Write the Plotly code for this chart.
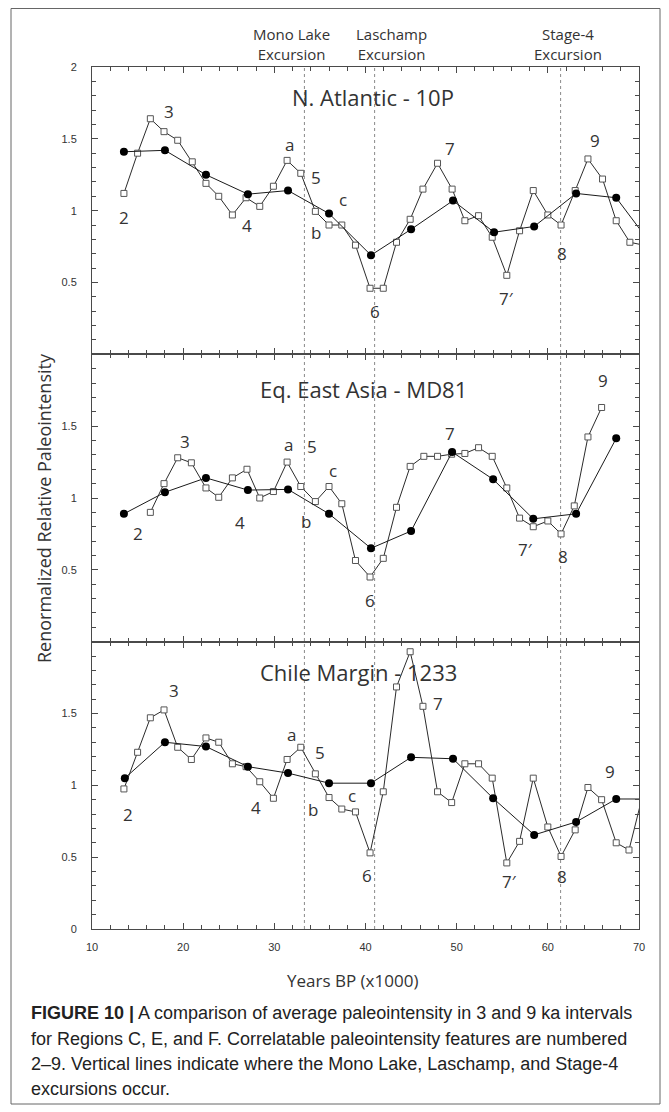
import plotly.graph_objects as go
from plotly.subplots import make_subplots

# ---------------- data ----------------
# N. Atlantic - 10P
na_sq_x = [13.5, 15.0, 16.4, 17.9, 19.4, 21.0, 22.5, 23.9, 25.4, 26.9, 28.4, 29.9, 31.4, 32.9,
           34.5, 36.0, 37.4, 38.9, 40.5, 41.95, 43.4, 44.9, 46.3, 47.9, 49.5, 50.9, 52.4, 53.9,
           55.5, 56.9, 58.4, 60.0, 61.45, 63.0, 64.4, 66.0, 67.5, 69.0, 70.5]
na_sq_y = [1.12, 1.40, 1.64, 1.55, 1.49, 1.34, 1.19, 1.10, 0.97, 1.09, 1.03, 1.17, 1.35, 1.26,
           0.995, 0.90, 0.90, 0.76, 0.46, 0.46, 0.78, 0.94, 1.15, 1.33, 1.15, 0.93, 0.965, 0.815,
           0.55, 0.86, 1.14, 0.97, 0.90, 1.14, 1.36, 1.22, 0.93, 0.78, 0.76]
na_dot_x = [13.5, 18.0, 22.5, 27.1, 31.5, 36.0, 40.6, 45.0, 49.6, 54.1, 58.5, 63.1, 67.5, 72.0]
na_dot_y = [1.41, 1.42, 1.25, 1.115, 1.14, 0.98, 0.69, 0.87, 1.07, 0.85, 0.89, 1.12, 1.09, 0.71]

# Eq. East Asia - MD81
ea_sq_x = [16.4, 17.9, 19.4, 20.9, 22.5, 23.9, 25.4, 27.0, 28.4, 29.9, 31.4, 32.9, 34.5, 36.0,
           37.4, 38.9, 40.5, 41.95, 43.4, 44.9, 46.4, 47.9, 49.45, 50.9, 52.4, 53.9, 55.5, 56.9,
           58.4, 60.0, 61.45, 62.9, 64.4, 65.9]
ea_sq_y = [0.90, 1.10, 1.28, 1.245, 1.07, 1.005, 1.14, 1.20, 1.00, 1.045, 1.25, 1.08, 0.975, 1.08,
           0.96, 0.565, 0.45, 0.58, 0.935, 1.22, 1.29, 1.29, 1.305, 1.31, 1.35, 1.29, 1.07, 0.86,
           0.80, 0.84, 0.75, 0.945, 1.425, 1.63]
ea_dot_x = [13.5, 18.0, 22.5, 27.1, 31.5, 36.0, 40.6, 45.0, 49.5, 54.0, 58.4, 63.1, 67.5]
ea_dot_y = [0.89, 1.04, 1.14, 1.055, 1.06, 0.89, 0.65, 0.77, 1.32, 1.13, 0.855, 0.89, 1.415]

# Chile Margin - 1233
cm_sq_x = [13.5, 15.0, 16.4, 17.9, 19.4, 20.9, 22.5, 23.9, 25.4, 26.9, 28.4, 29.9, 31.4, 32.9,
           34.5, 36.0, 37.4, 38.9, 40.5, 41.95, 43.4, 44.9, 46.3, 47.9, 49.45, 50.9, 52.4, 53.9,
           55.5, 56.9, 58.4, 60.0, 61.45, 63.0, 64.4, 65.9, 67.5, 68.9, 70.4]
cm_sq_y = [0.975, 1.23, 1.47, 1.525, 1.265, 1.18, 1.33, 1.30, 1.15, 1.13, 1.025, 0.91, 1.18, 1.265,
           1.08, 0.915, 0.835, 0.815, 0.53, 0.955, 1.685, 1.93, 1.55, 0.955, 0.88, 1.15, 1.15, 1.05,
           0.46, 0.61, 1.05, 0.71, 0.505, 0.69, 0.985, 0.90, 0.60, 0.55, 0.93]
cm_dot_x = [13.6, 18.0, 22.5, 27.1, 31.5, 36.0, 40.6, 45.0, 49.6, 54.0, 58.5, 63.1, 67.5, 72.0]
cm_dot_y = [1.05, 1.30, 1.27, 1.13, 1.085, 1.015, 1.015, 1.195, 1.185, 0.91, 0.655, 0.745, 0.905, 0.905]

# feature labels (text, x, y) per panel
na_lab_t = ["2", "3", "4", "a", "5", "b", "c", "6", "7", "7′", "8", "9"]
na_lab_x = [13.5, 18.5, 27.0, 31.7, 34.6, 34.6, 37.5, 41.0, 49.3, 55.5, 61.5, 65.2]
na_lab_y = [0.95, 1.69, 0.895, 1.46, 1.23, 0.845, 1.08, 0.30, 1.435, 0.39, 0.70, 1.49]

ea_lab_t = ["2", "3", "4", "a", "5", "b", "c", "6", "7", "7′", "8", "9"]
ea_lab_x = [15.0, 20.2, 26.2, 31.5, 34.1, 33.5, 36.4, 40.5, 49.3, 57.5, 61.7, 66.0]
ea_lab_y = [0.755, 1.39, 0.83, 1.37, 1.36, 0.835, 1.19, 0.29, 1.45, 0.64, 0.59, 1.82]

cm_lab_t = ["2", "3", "4", "a", "5", "b", "c", "6", "7", "7′", "8", "9"]
cm_lab_x = [14.0, 19.0, 28.0, 31.9, 35.0, 34.2, 38.5, 40.2, 47.9, 55.8, 61.5, 66.8]
cm_lab_y = [0.795, 1.66, 0.845, 1.355, 1.23, 0.83, 0.93, 0.375, 1.57, 0.33, 0.365, 1.095]

panel_titles = ["N. Atlantic - 10P", "Eq. East Asia - MD81", "Chile Margin - 1233"]

excursion_x = [33.3, 41.0, 61.4]
excursion_names = ["Mono Lake<br>Excursion", "Laschamp<br>Excursion", "Stage-4<br>Excursion"]
excursion_label_x = [31.9, 42.9, 62.2]

y_tickvals = [[0.5, 1, 1.5, 2], [0.5, 1, 1.5], [0, 0.5, 1, 1.5]]
x_range = [10, 70]
y_range = [0, 2]

caption_lines = [
    "<b>FIGURE 10 |</b> A comparison of average paleointensity in 3 and 9 ka intervals",
    "for Regions C, E, and F. Correlatable paleointensity features are numbered",
    "2–9. Vertical lines indicate where the Mono Lake, Laschamp, and Stage-4",
    "excursions occur.",
]

# ---------------- figure ----------------
# page body has an 8px default margin, so the figure is 8px smaller than the window
OFF = 8
W, H = 669 - OFF, 1112 - OFF
# plot area in page pixels: x 92..639, y 67..929
PL, PR, PT, PB = 92, 639, 67, 929
ML, MR, MT, MB = PL - OFF, W - (PR - OFF), PT - OFF, H - (PB - OFF)
PW, PH = PR - PL, PB - PT


def px(rx):
    return (rx - PL) / PW


def py(ry):
    return (PB - ry) / PH


fig = make_subplots(rows=3, cols=1, shared_xaxes=True, vertical_spacing=0)

INK = "#333333"
AX = "#4a4a4a"
FONT = "Open Sans"

panels = [
    (na_sq_x, na_sq_y, na_dot_x, na_dot_y, na_lab_t, na_lab_x, na_lab_y),
    (ea_sq_x, ea_sq_y, ea_dot_x, ea_dot_y, ea_lab_t, ea_lab_x, ea_lab_y),
    (cm_sq_x, cm_sq_y, cm_dot_x, cm_dot_y, cm_lab_t, cm_lab_x, cm_lab_y),
]
title_pos = [(373, 1.79), (363, 1.757), (358, 1.79)]

for i, (sx, sy, dx, dy, lt, lx, ly) in enumerate(panels):
    r = i + 1
    fig.add_trace(go.Scatter(x=sx, y=sy, mode="lines+markers",
                             line=dict(color="#2b2b2b", width=1),
                             marker=dict(symbol="square", size=6, color="white",
                                         line=dict(color="#555555", width=1)),
                             showlegend=False, hoverinfo="skip"), row=r, col=1)
    fig.add_trace(go.Scatter(x=dx, y=dy, mode="lines+markers",
                             line=dict(color="#1a1a1a", width=1),
                             marker=dict(symbol="circle", size=8, color="black"),
                             showlegend=False, hoverinfo="skip"), row=r, col=1)
    xr = "x" if r == 1 else f"x{r}"
    yr = "y" if r == 1 else f"y{r}"
    for t, x, y in zip(lt, lx, ly):
        fig.add_annotation(x=x, y=y, xref=xr, yref=yr, text=t, showarrow=False,
                           font=dict(family=FONT, size=17, color=INK))
    tx, ty = title_pos[i]
    fig.add_annotation(x=px(tx), y=ty, xref="paper", yref=yr, text=panel_titles[i],
                       showarrow=False, font=dict(family=FONT, size=22, color=INK))
    fig.update_yaxes(range=y_range, tickmode="array", tickvals=y_tickvals[i],
                     ticktext=[("%g" % v) for v in y_tickvals[i]],
                     ticks="inside", ticklen=6, tickwidth=1, tickcolor=AX,
                     minor=dict(tickmode="linear", tick0=0, dtick=0.1, ticks="inside",
                                ticklen=4, tickcolor=AX, showgrid=False),
                     showline=True, linecolor=AX, linewidth=1, mirror="ticks",
                     showgrid=False, zeroline=False, ticklabelstandoff=12,
                     tickfont=dict(family="Liberation Sans", size=11, color=INK),
                     row=r, col=1)
    fig.update_xaxes(range=x_range, tickmode="linear", tick0=10, dtick=10,
                     ticks="inside", ticklen=6, tickwidth=1, tickcolor=AX,
                     minor=dict(tickmode="linear", tick0=10, dtick=2, ticks="inside",
                                ticklen=4, tickcolor=AX, showgrid=False),
                     showline=True, linecolor=AX, linewidth=1, mirror="ticks",
                     showgrid=False, zeroline=False,
                     tickfont=dict(family="Liberation Sans", size=11, color=INK),
                     row=r, col=1)

fig.update_xaxes(ticklabelstandoff=8, row=3, col=1)

# vertical dashed excursion lines
for xv in excursion_x:
    fig.add_shape(type="line", x0=xv, x1=xv, xref="x3", y0=0, y1=1, yref="paper",
                  line=dict(color="#8a8a8a", width=1, dash="3px,3px"), layer="below")

for xv, name in zip(excursion_label_x, excursion_names):
    fig.add_annotation(x=xv, xref="x3", y=py(44), yref="paper", text=name,
                       showarrow=False, yanchor="middle",
                       font=dict(family=FONT, size=15, color=INK))

# axis titles
fig.add_annotation(x=px(30), y=py(508), xref="paper", yref="paper",
                   text="Renormalized Relative Paleointensity", textangle=-90, showarrow=False,
                   font=dict(family=FONT, size=18, color=INK))
fig.add_annotation(x=px(352), y=py(994), xref="paper", yref="paper",
                   text="Years BP (x1000)", showarrow=False,
                   font=dict(family=FONT, size=17, color=INK))

# caption
cap_y = [1013, 1039, 1064, 1089]
for line, yy in zip(caption_lines, cap_y):
    fig.add_annotation(x=px(29), y=py(yy), xref="paper", yref="paper",
                       text=line, showarrow=False, xanchor="left", yanchor="middle",
                       font=dict(family="Liberation Sans", size=18, color="#222222"))

# outer frame
fig.add_shape(type="rect", xref="paper", yref="paper",
              x0=px(11), x1=px(660), y0=py(1104), y1=py(8.5),
              line=dict(color="#666666", width=1), fillcolor="rgba(0,0,0,0)")

fig.update_layout(width=W, height=H, margin=dict(l=ML, r=MR, t=MT, b=MB, autoexpand=False),
                  paper_bgcolor="white", plot_bgcolor="white", showlegend=False)

fig.write_html("out.html")
